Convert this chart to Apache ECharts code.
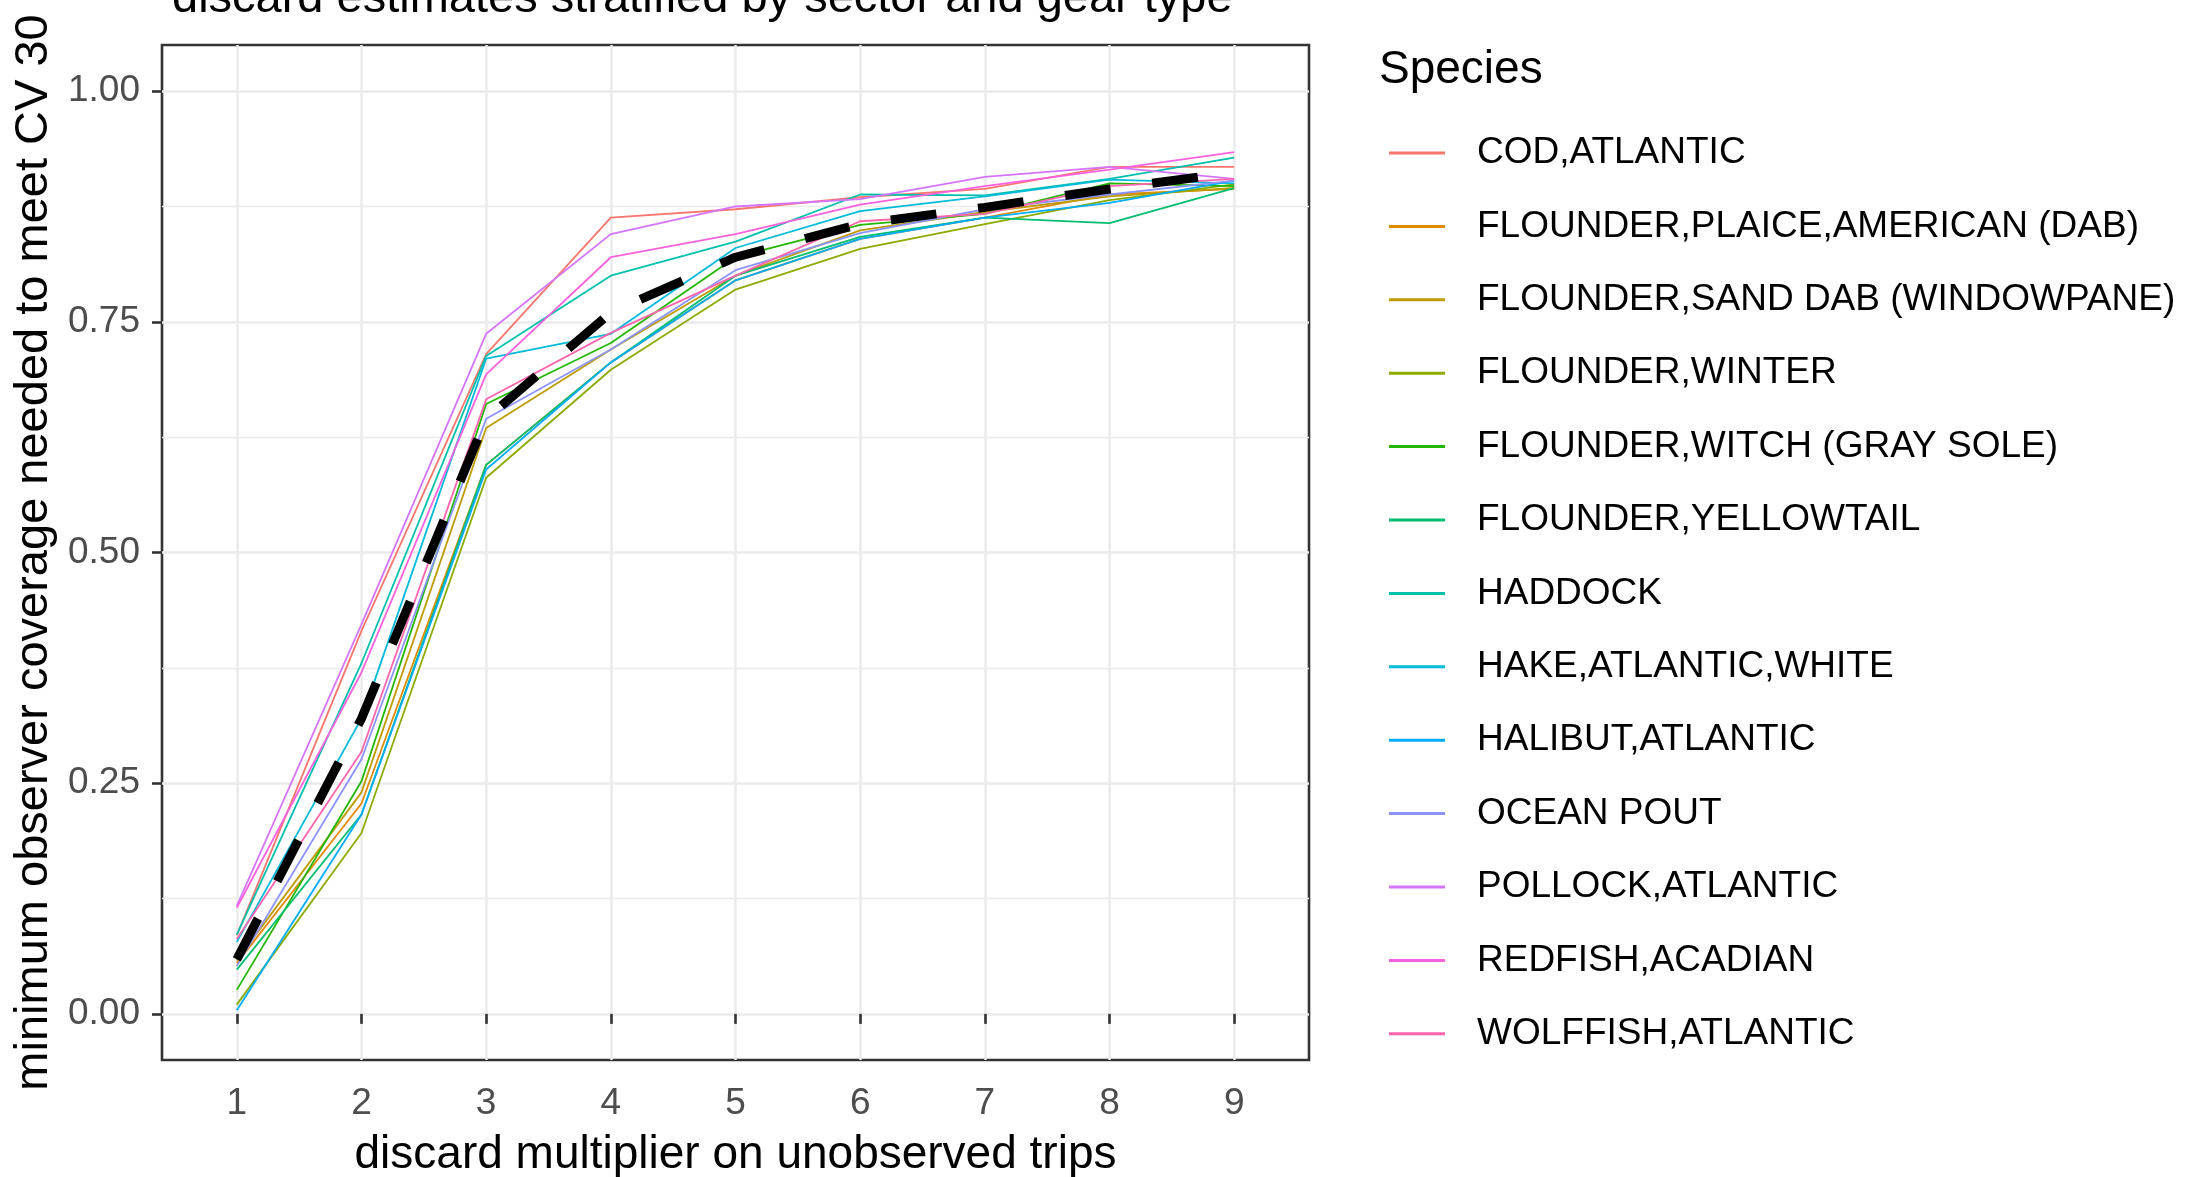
<!DOCTYPE html>
<html>
<head>
<meta charset="utf-8">
<script src="https://cdn.jsdelivr.net/npm/echarts@6/dist/echarts.min.js"></script>
<style>
  html, body { margin: 0; padding: 0; background: #ffffff; }
  #chart { width: 2189px; height: 1177px; }
</style>
</head>
<body>
<div id="chart"></div>
<script>
// Discard multiplier levels (x axis)
const multipliers = [1, 2, 3, 4, 5, 6, 7, 8, 9];

// Y tick labels
const yTicks = [0, 0.25, 0.5, 0.75, 1.0];
const yMinorTicks = [0.125, 0.375, 0.625, 0.875];

// Minimum observer coverage needed to meet CV 30, per species
const codAtlantic        = [0.085, 0.415, 0.715, 0.863, 0.872, 0.885, 0.894, 0.918, 0.918];
const flounderPlaice     = [0.055, 0.228, 0.595, 0.706, 0.795, 0.840, 0.863, 0.888, 0.894];
const flounderSandDab    = [0.058, 0.240, 0.635, 0.720, 0.800, 0.849, 0.869, 0.886, 0.895];
const flounderWinter     = [0.010, 0.196, 0.581, 0.698, 0.785, 0.829, 0.856, 0.882, 0.899];
const flounderWitch      = [0.026, 0.252, 0.661, 0.727, 0.820, 0.855, 0.867, 0.900, 0.897];
const flounderYellowtail = [0.048, 0.216, 0.595, 0.706, 0.800, 0.842, 0.863, 0.857, 0.895];
const haddock            = [0.086, 0.380, 0.713, 0.800, 0.837, 0.888, 0.887, 0.905, 0.928];
const hakeWhite          = [0.078, 0.320, 0.710, 0.737, 0.830, 0.870, 0.886, 0.904, 0.900];
const halibutAtlantic    = [0.004, 0.216, 0.590, 0.706, 0.795, 0.840, 0.863, 0.879, 0.903];
const oceanPout          = [0.052, 0.276, 0.645, 0.720, 0.806, 0.846, 0.872, 0.888, 0.903];
const pollockAtlantic    = [0.117, 0.422, 0.737, 0.845, 0.875, 0.883, 0.907, 0.918, 0.905];
const redfishAcadian     = [0.115, 0.370, 0.693, 0.820, 0.845, 0.877, 0.897, 0.915, 0.934];
const wolffishAtlantic   = [0.081, 0.284, 0.666, 0.738, 0.800, 0.859, 0.867, 0.897, 0.905];

// Average across species (dashed black line)
const speciesMean        = [0.059, 0.320, 0.645, 0.760, 0.820, 0.856, 0.874, 0.894, 0.912];

const speciesNames = [
  'COD,ATLANTIC',
  'FLOUNDER,PLAICE,AMERICAN (DAB)',
  'FLOUNDER,SAND DAB (WINDOWPANE)',
  'FLOUNDER,WINTER',
  'FLOUNDER,WITCH (GRAY SOLE)',
  'FLOUNDER,YELLOWTAIL',
  'HADDOCK',
  'HAKE,ATLANTIC,WHITE',
  'HALIBUT,ATLANTIC',
  'OCEAN POUT',
  'POLLOCK,ATLANTIC',
  'REDFISH,ACADIAN',
  'WOLFFISH,ATLANTIC'
];

const speciesValues = [
  codAtlantic, flounderPlaice, flounderSandDab, flounderWinter, flounderWitch,
  flounderYellowtail, haddock, hakeWhite, halibutAtlantic, oceanPout,
  pollockAtlantic, redfishAcadian, wolffishAtlantic
];

// Default discrete hue palette for 13 levels
const speciesColors = [
  '#F8766D', '#E18A00', '#BE9C00', '#8CAB00', '#24B700', '#00BE70', '#00C1AB',
  '#00BBDA', '#00ACFC', '#8B93FF', '#D575FE', '#F962DD', '#FF65AC'
];

const FONT = '"Liberation Sans", Arial, sans-serif';

function pairs(values) {
  return multipliers.map((m, i) => [m, values[i]]);
}

const series = speciesNames.map((name, i) => ({
  name: name,
  type: 'line',
  data: pairs(speciesValues[i]),
  symbol: 'none',
  color: speciesColors[i],
  lineStyle: { width: 1.8, color: speciesColors[i] },
  silent: true,
  animation: false,
  z: 2
}));

series.push({
  name: 'mean',
  type: 'line',
  data: pairs(speciesMean),
  symbol: 'none',
  color: '#000000',
  lineStyle: { width: 9, color: '#000000', type: [46, 42], cap: 'butt' },
  silent: true,
  animation: false,
  z: 3
});

const chart = echarts.init(document.getElementById('chart'), null, { renderer: 'canvas' });

chart.setOption({
  backgroundColor: '#ffffff',
  animation: false,
  grid: {
    left: 162, top: 45, width: 1147, height: 1015,
    show: true, borderColor: '#333333', borderWidth: 2.6, backgroundColor: '#ffffff',
    containLabel: false,
    outerBoundsMode: 'none'
  },
  xAxis: {
    type: 'value',
    min: 0.4, max: 9.6,
    axisLine: { show: false },
    axisTick: { show: true, customValues: multipliers, length: 10, lineStyle: { color: '#333333', width: 2.6 } },
    axisLabel: { customValues: multipliers, fontSize: 37, color: '#4D4D4D', margin: 25, fontFamily: FONT },
    splitLine: { show: true, lineStyle: { color: '#EBEBEB', width: 2.5 } },
    name: 'discard multiplier on unobserved trips',
    nameLocation: 'middle',
    nameGap: 72,
    nameTextStyle: { fontSize: 46, color: '#000000', fontFamily: FONT }
  },
  yAxis: [{
    type: 'value',
    min: -0.05, max: 1.05,
    axisLine: { show: false },
    axisTick: { show: true, customValues: yTicks, length: 10, lineStyle: { color: '#333333', width: 2.6 } },
    axisLabel: {
      customValues: yTicks, fontSize: 37, color: '#4D4D4D', margin: 22, fontFamily: FONT,
      padding: [8, 0, 0, 0],
      formatter: v => v.toFixed(2)
    },
    splitLine: { show: true, lineStyle: { color: '#EBEBEB', width: 2.5 } },
    name: 'minimum observer coverage needed to meet CV 30',
    nameLocation: 'middle',
    nameGap: 99,
    nameRotate: 90,
    nameTextStyle: { fontSize: 47, color: '#000000', fontFamily: FONT }
  }, {
    type: 'value',
    min: -0.05, max: 1.05,
    position: 'left',
    axisLine: { show: false },
    axisTick: { show: false, customValues: yMinorTicks },
    axisLabel: { show: false, customValues: yMinorTicks },
    splitLine: { show: true, lineStyle: { color: '#EBEBEB', width: 1.3 } }
  }],
  legend: {
    data: speciesNames,
    orient: 'vertical',
    left: 1389,
    top: 133,
    padding: 0,
    icon: 'rect',
    itemWidth: 56,
    itemHeight: 3,
    itemGap: 33.4,
    selectedMode: false,
    textStyle: { fontSize: 37, color: '#000000', fontFamily: FONT, lineHeight: 40, padding: [0, 0, 0, 27] }
  },
  graphic: [
    {
      type: 'text', left: 172, top: -24, silent: true,
      style: { text: 'discard estimates stratified by sector and gear type', font: '47px ' + FONT, fill: '#000000' }
    },
    {
      type: 'text', left: 1379, top: 47, silent: true,
      style: { text: 'Species', font: '46px ' + FONT, fill: '#000000' }
    }
  ],
  series: series
});
</script>
</body>
</html>
